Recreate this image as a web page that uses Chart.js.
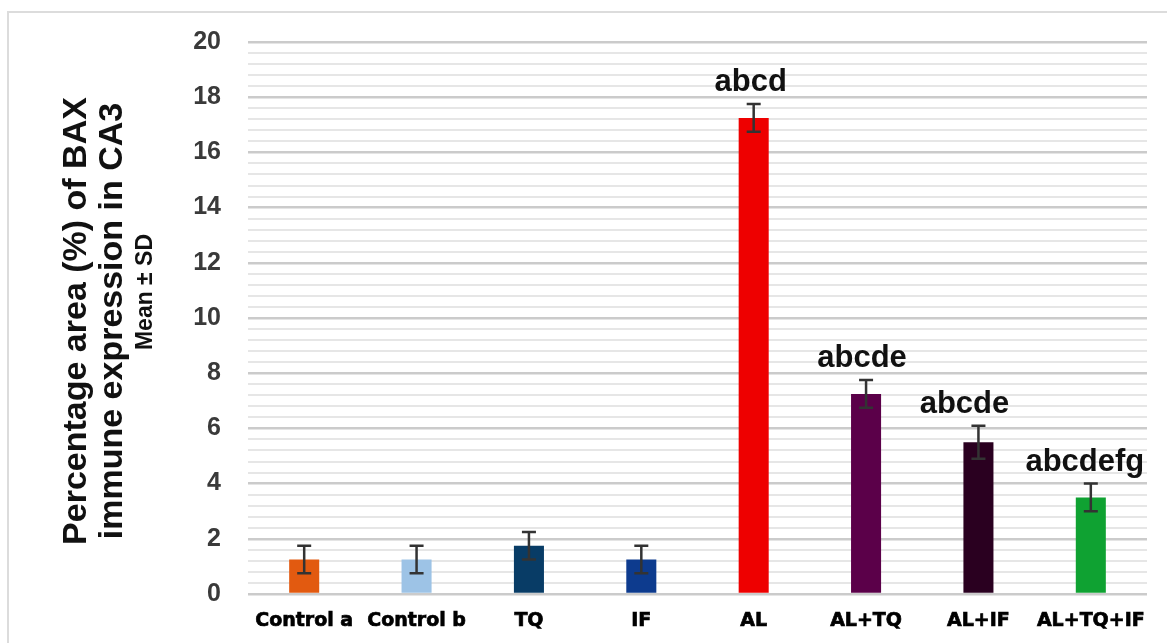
<!DOCTYPE html>
<html>
<head>
<meta charset="utf-8">
<script src="https://cdn.jsdelivr.net/npm/chart.js@4.4.1/dist/chart.umd.min.js"></script>
<style>
  html, body { margin: 0; padding: 0; background: #ffffff; overflow: hidden; }
  #frame { position: absolute; left: 7px; top: 11px; width: 1200px; height: 700px;
           border: 2px solid #dcdcdc; box-sizing: border-box; }
  #wrap { position: absolute; left: 0; top: 0; width: 1167px; height: 643px; }
</style>
</head>
<body>
<div id="frame"></div>
<div id="wrap"><canvas id="chart" width="1167" height="643"></canvas></div>
<script>
// BAX immune expression in CA3 (percentage area, mean ± SD)
const categories = ['Control a', 'Control b', 'TQ', 'IF', 'AL', 'AL+TQ', 'AL+IF', 'AL+TQ+IF'];
const meanValues = [1.25, 1.25, 1.75, 1.25, 17.25, 7.25, 5.5, 3.5];
const sdValues = [0.5, 0.5, 0.5, 0.5, 0.5, 0.5, 0.6, 0.5];
const significance = ['', '', '', '', 'abcd', 'abcde', 'abcde', 'abcdefg'];
const barColors = ['#E25A10', '#9DC3E6', '#083C66', '#0D3B8E', '#EE0000', '#5B0049', '#2A0020', '#0FA232'];
const yMin = 0;
const yMax = 20;
const yMajorStep = 2;
const yMinorStep = 0.4;
const yTitleLines = ['Percentage area (%) of BAX', 'immune expression in CA3'];
const yTitleSub = 'Mean ± SD';

const isMajor = v => Math.abs(v / yMajorStep - Math.round(v / yMajorStep)) < 1e-6;

// Error bars (mean ± SD) drawn through the chart's scales
const errorBars = {
  id: 'errorBars',
  afterDatasetsDraw(chart, args, opts) {
    const { ctx, scales: { x, y } } = chart;
    ctx.save();
    ctx.strokeStyle = opts.color;
    ctx.lineWidth = opts.width;
    meanValues.forEach((m, i) => {
      const cx = x.getPixelForValue(i);
      const top = y.getPixelForValue(m + sdValues[i]);
      const bot = y.getPixelForValue(m - sdValues[i]);
      ctx.beginPath();
      ctx.moveTo(cx, top); ctx.lineTo(cx, bot);
      ctx.moveTo(cx - opts.cap, top); ctx.lineTo(cx + opts.cap, top);
      ctx.moveTo(cx - opts.cap, bot); ctx.lineTo(cx + opts.cap, bot);
      ctx.stroke();
    });
    ctx.restore();
  }
};

// Significance letters above each error bar
const sigLetters = {
  id: 'sigLetters',
  afterDatasetsDraw(chart, args, opts) {
    const { ctx, scales: { x, y } } = chart;
    ctx.save();
    ctx.font = opts.font;
    ctx.fillStyle = opts.color;
    ctx.textAlign = 'center';
    ctx.textBaseline = 'alphabetic';
    significance.forEach((s, i) => {
      if (!s) return;
      const cx = x.getPixelForValue(i) + (opts.shift[i] || 0);
      const top = y.getPixelForValue(meanValues[i] + sdValues[i]);
      ctx.fillText(s, cx, top - opts.gap);
    });
    ctx.restore();
  }
};

// Rotated y-axis title: two main lines plus a smaller "Mean ± SD" line
const yTitle = {
  id: 'yTitle',
  afterDraw(chart, args, opts) {
    const { ctx } = chart;
    ctx.save();
    ctx.fillStyle = opts.color;
    ctx.textAlign = 'center';
    ctx.textBaseline = 'middle';
    yTitleLines.forEach((t, i) => {
      ctx.save();
      ctx.translate(opts.x[i], opts.cy);
      ctx.rotate(-Math.PI / 2);
      ctx.font = opts.mainFont;
      ctx.fillText(t, 0, 0);
      ctx.restore();
    });
    ctx.translate(opts.subX, opts.subCy);
    ctx.rotate(-Math.PI / 2);
    ctx.font = opts.subFont;
    ctx.fillText(yTitleSub, 0, 0);
    ctx.restore();
  }
};

new Chart(document.getElementById('chart'), {
  type: 'bar',
  data: {
    labels: categories,
    datasets: [{
      data: meanValues,
      backgroundColor: barColors,
      borderWidth: 0,
      barPercentage: 0.9,
      categoryPercentage: 0.297
    }]
  },
  options: {
    responsive: false,
    animation: false,
    layout: { padding: { left: 0, right: 20, top: 42, bottom: 0 } },
    plugins: {
      legend: { display: false },
      tooltip: { enabled: false },
      errorBars: { color: '#333333', width: 2.5, cap: 7 },
      sigLetters: { font: 'bold 31px "Liberation Sans", Arial, sans-serif', color: '#111111', gap: 13,
                    shift: [0, 0, 0, 0, -3, -4, -14, -6] },
      yTitle: { color: '#111111', mainFont: 'bold 34px "Liberation Sans", Arial, sans-serif',
                subFont: 'bold 23px "Liberation Sans", Arial, sans-serif',
                x: [77, 113], cy: 321, subX: 146, subCy: 292 }
    },
    scales: {
      x: {
        grid: { display: false },
        border: { display: false },
        ticks: {
          color: '#000000',
          textStrokeColor: '#000000',
          textStrokeWidth: 0.7,
          padding: 8,
          maxRotation: 0,
          autoSkip: false,
          font: { family: '"DejaVu Sans", sans-serif', weight: 'bold', size: 19 }
        },
        afterFit(scale) { scale.height = 49; }
      },
      y: {
        min: yMin,
        max: yMax,
        border: { display: false },
        grid: {
          drawTicks: false,
          color: ctx => isMajor(ctx.tick.value) ? '#cbcbcb' : '#e6e6e6',
          lineWidth: ctx => isMajor(ctx.tick.value) ? 2.6 : 2
        },
        ticks: {
          autoSkip: false,
          padding: 27,
          color: '#3a3a3a',
          font: { family: '"Liberation Sans", Arial, sans-serif', weight: 'bold', size: 25 },
          callback: v => isMajor(v) ? String(Math.round(v)) : ''
        },
        afterBuildTicks(scale) {
          const ticks = [];
          const n = Math.round((yMax - yMin) / yMinorStep);
          for (let k = 0; k <= n; k++) {
            ticks.push({ value: +(yMin + k * yMinorStep).toFixed(6) });
          }
          scale.ticks = ticks;
        },
        afterFit(scale) { scale.width = 248; }
      }
    }
  },
  plugins: [errorBars, sigLetters, yTitle]
});
</script>
</body>
</html>
